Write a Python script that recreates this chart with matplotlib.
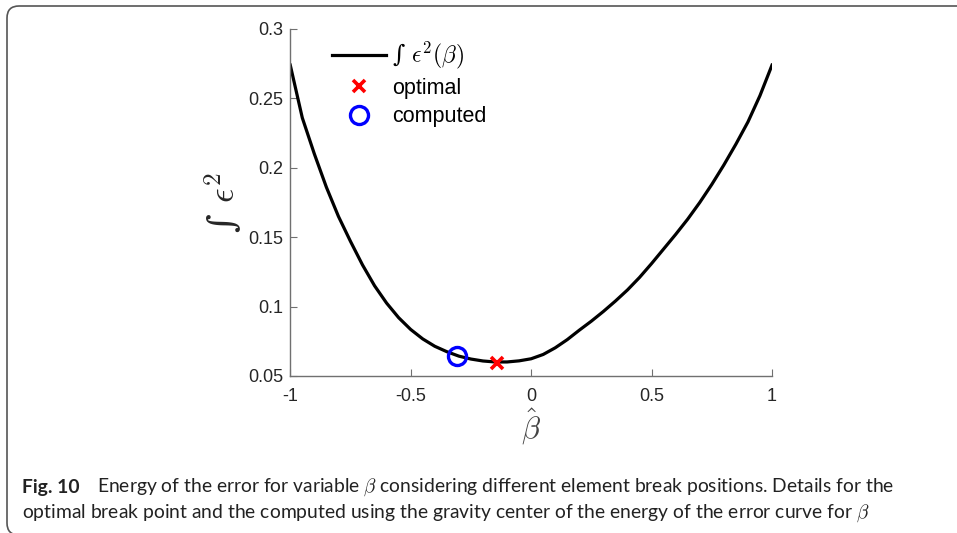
import numpy as np
import matplotlib
matplotlib.use("Agg")
import matplotlib.pyplot as plt
from matplotlib.patches import FancyBboxPatch
from matplotlib.transforms import IdentityTransform

# Energy of the error vs break position
beta_hat = [-1.00, -0.95, -0.90, -0.85, -0.80, -0.75, -0.70, -0.65, -0.60, -0.55,
            -0.50, -0.45, -0.40, -0.35, -0.30, -0.25, -0.20, -0.15, -0.10, -0.05,
            0.00, 0.05, 0.10, 0.15, 0.20, 0.25, 0.30, 0.35, 0.40, 0.45,
            0.50, 0.55, 0.60, 0.65, 0.70, 0.75, 0.80, 0.85, 0.90, 0.95, 1.00]
energy = [0.274, 0.236, 0.210, 0.186, 0.165, 0.147, 0.130, 0.115, 0.1025, 0.092,
          0.0835, 0.0767, 0.0714, 0.0675, 0.0643, 0.0622, 0.0608, 0.0601, 0.0601, 0.0609,
          0.0624, 0.0655, 0.0703, 0.0762, 0.0830, 0.0895, 0.0965, 0.1040, 0.1120, 0.1210,
          0.1310, 0.1415, 0.1520, 0.1630, 0.1750, 0.1880, 0.2020, 0.2170, 0.2330, 0.2520, 0.2740]

opt_x, opt_y = [-0.141], [0.0597]
comp_x, comp_y = [-0.306], [0.0645]

xticks = [-1, -0.5, 0, 0.5, 1]
xtick_labels = ["-1", "-0.5", "0", "0.5", "1"]
yticks = [0.05, 0.1, 0.15, 0.2, 0.25, 0.3]
ytick_labels = ["0.05", "0.1", "0.15", "0.2", "0.25", "0.3"]

plt.rcParams["mathtext.fontset"] = "cm"
plt.rcParams["font.family"] = ["Liberation Sans", "DejaVu Sans"]
serif = ["DejaVu Serif", "Liberation Serif"]

fig = plt.figure(figsize=(9.57, 5.33), dpi=100)
ax = fig.add_axes([0.3033, 0.2946, 0.5034, 0.6510])

ax.plot(beta_hat, energy, color="black", lw=2.3, label="\u222b $\\epsilon^2(\\beta)$")
ax.plot(opt_x, opt_y, "x", color="red", ms=9, mew=2.6, label="optimal")
ax.plot(comp_x, comp_y, "o", color="blue", ms=13, mew=2.4, mfc="none", label="computed")

ax.set_xlim(-1, 1)
ax.set_ylim(0.05, 0.3)
ax.set_xticks(xticks, xtick_labels)
ax.set_yticks(yticks, ytick_labels)
for s in ["top", "right"]:
    ax.spines[s].set_visible(False)
for s in ["left", "bottom"]:
    ax.spines[s].set_color("#707070")
    ax.spines[s].set_linewidth(1.0)
ax.tick_params(direction="in", length=5, color="#707070", labelsize=13,
               labelcolor="#262626")
ax.tick_params(axis="y", pad=5)
ax.tick_params(axis="x", pad=9)

ax.set_xlabel(r"$\hat{\beta}$", fontsize=22, color="#444444", labelpad=1)
ax.set_ylabel("\u222b $\\epsilon^2$", fontsize=26, color="#262626", family=serif)
ax.yaxis.set_label_coords(-0.095, 0.5)

leg = ax.legend(loc="upper left", bbox_to_anchor=(0.046, 1.025), frameon=False,
                fontsize=15.5, handlelength=2.5, labelspacing=0.33, handletextpad=0.3)
leg.get_texts()[0].set_fontsize(17)
leg.get_texts()[0].set_family(serif)

# caption below the chart
cap_font = dict(fontfamily="Lato", fontsize=13.9, va="center", color="#222222")
fig.text(22 / 957, 1 - 487 / 533, "Fig. 10", fontweight="bold", **cap_font)
fig.text(97 / 957, 1 - 487 / 533,
         r"Energy of the error for variable $\beta$ considering different element break positions. Details for the",
         **cap_font)
fig.text(22 / 957, 1 - 513 / 533,
         r"optimal break point and the computed using the gravity center of the energy of the error curve for $\beta$",
         **cap_font)

# rounded frame round the figure (pixel units)
frame = FancyBboxPatch((7, -2), 1000, 529, boxstyle="round,pad=0,rounding_size=12",
                       transform=IdentityTransform(), fill=False, ec="#555555", lw=1.2)
fig.patches.append(frame)

fig.savefig("out.png", dpi=100)
